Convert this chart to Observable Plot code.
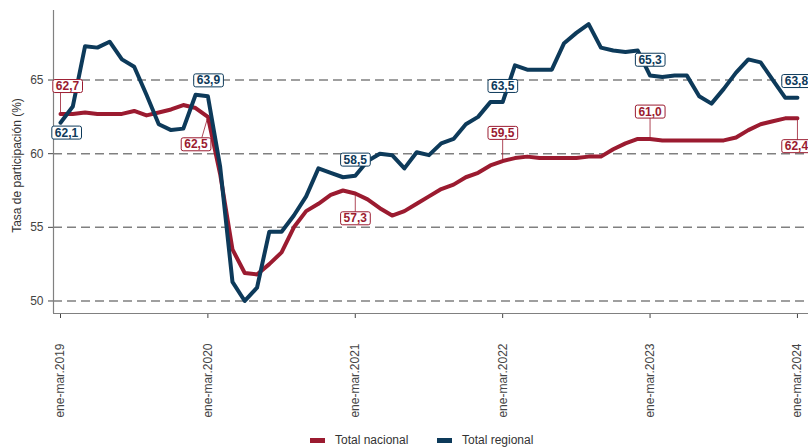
<!DOCTYPE html>
<html><head><meta charset="utf-8">
<script src="https://cdn.jsdelivr.net/npm/d3@7"></script>
<script src="https://cdn.jsdelivr.net/npm/@observablehq/plot@0.6"></script>
<style>
body{margin:0;background:#fff;font-family:"Liberation Sans",Arial,sans-serif;}
#chart{width:808px;height:433px;}
#legend{position:relative;width:808px;height:15px;font-size:12px;color:#333;}
.item{position:absolute;top:0;height:15px;line-height:15px;display:flex;align-items:center;white-space:nowrap;}
.sw{width:15px;height:5px;margin-right:10px;}
</style></head><body>
<div id="chart"></div>
<div id="legend"></div>
<script>
// ---- data ----
const tickLabels = ["ene-mar.2019","ene-mar.2020","ene-mar.2021","ene-mar.2022","ene-mar.2023","ene-mar.2024"];
const seriesNames = ["Total nacional","Total regional"];
const nacional = [62.7,62.7,62.8,62.7,62.7,62.7,62.9,62.6,62.8,63.0,63.3,63.1,
  62.5,58.6,53.5,51.9,51.8,52.5,53.3,55.0,56.1,56.6,57.2,57.5,
  57.3,56.9,56.3,55.8,56.1,56.6,57.1,57.6,57.9,58.4,58.7,59.2,
  59.5,59.7,59.8,59.7,59.7,59.7,59.7,59.8,59.8,60.3,60.7,61.0,
  61.0,60.9,60.9,60.9,60.9,60.9,60.9,61.1,61.6,62.0,62.2,62.4,
  62.4];
const regional = [62.1,63.2,67.3,67.2,67.6,66.4,65.9,64.0,62.0,61.6,61.7,64.0,
  63.9,59.1,51.3,50.0,50.9,54.7,54.7,55.8,57.1,59.0,58.7,58.4,
  58.5,59.5,60.0,59.9,59.0,60.1,59.9,60.7,61.0,62.0,62.5,63.5,
  63.5,66.0,65.7,65.7,65.7,67.5,68.2,68.8,67.2,67.0,66.9,67.0,
  65.3,65.2,65.3,65.3,63.9,63.4,64.4,65.5,66.4,66.2,65.0,63.8,
  63.8];
const labelIdx = [0,12,24,36,48,60];
const yTicks = [50,55,60,65];

// ---- layout ----
const RED = "#9b1b30", BLUE = "#0d3a5a";
const W = 808, H = 433, mL = 53, mR = 0, mT = 10, mB = 120;
const xDom = [-0.57, 60.9], yDom = [49.15, 69.72];
const kx = (W - mL - mR) / (xDom[1] - xDom[0]);
const ky = (H - mT - mB) / (yDom[1] - yDom[0]);
// pixel offsets of label boxes (dx, dy) and stem end x-offset
const natOff = [[7,-27.7,0],[-12,27.6,-8],[0,25,0],[0,-28,0],[0,-27.2,0],[-1,28,0]];
const regOff = [[6,10],[0.5,-15.7],[0,-16],[0,-16],[0,-15.7],[-1,-16.5]];
const fmt = v => v.toFixed(1).replace(".", ",");

const months = nacional.map((_, i) => i);
const natRows = labelIdx.map((i, k) => ({i, v: nacional[i], t: fmt(nacional[i]),
  lx: i + natOff[k][0] / kx, ly: nacional[i] - natOff[k][1] / ky, sx: i + natOff[k][2] / kx}));
const regRows = labelIdx.map((i, k) => ({i, v: regional[i], t: fmt(regional[i]),
  lx: i + regOff[k][0] / kx, ly: regional[i] - regOff[k][1] / ky}));

const chart = Plot.plot({
  width: W, height: H, marginLeft: mL, marginRight: mR, marginTop: mT, marginBottom: mB,
  style: {fontFamily: '"Liberation Sans",Arial,sans-serif', fontSize: "12px", color: "#444", background: "#fff"},
  x: {domain: xDom, ticks: tickLabels.map((_, k) => k * 12), tickFormat: d => tickLabels[Math.round(d / 12)],
      tickRotate: -90, tickSize: 5, tickPadding: 25, label: null},
  y: {domain: yDom, ticks: yTicks, tickSize: 5, tickPadding: 5, label: null},
  marks: [
    Plot.ruleY(yTicks, {stroke: "#808080", strokeWidth: 1.5, strokeDasharray: "9,5"}),
    Plot.ruleX([xDom[0]], {stroke: "#808080", strokeWidth: 1.2}),
    Plot.ruleY([yDom[0]], {stroke: "#808080", strokeWidth: 1.2}),
    Plot.line(months, {x: d => d, y: d => nacional[d], stroke: RED, strokeWidth: 4, strokeLinejoin: "round"}),
    Plot.line(months, {x: d => d, y: d => regional[d], stroke: BLUE, strokeWidth: 4, strokeLinejoin: "round"}),
    Plot.link(natRows, {x1: "i", y1: "v", x2: "sx", y2: "ly", stroke: RED, strokeWidth: 1, strokeOpacity: 0.8}),
    Plot.text(natRows, {x: "lx", y: "ly", text: "t", fill: RED, fontWeight: "bold", fontSize: 12, ariaLabel: () => "lbl-nat"}),
    Plot.text(regRows, {x: "lx", y: "ly", text: "t", fill: BLUE, fontWeight: "bold", fontSize: 12, ariaLabel: () => "lbl-reg"}),
    Plot.text(["Tasa de participación (%)"], {frameAnchor: "left", textAnchor: "middle", rotate: -90, dx: -36, dy: 3.5, fill: "#333", fontSize: 12})
  ]
});
document.getElementById("chart").append(chart);

for (const [name, color] of [["lbl-nat", RED], ["lbl-reg", BLUE]]) {
  chart.querySelectorAll(`text[aria-label="${name}"]`).forEach(t => {
    const bb = t.getBBox();
    const r = document.createElementNS("http://www.w3.org/2000/svg", "rect");
    r.setAttribute("x", bb.x - 3);
    r.setAttribute("y", bb.y + 0.5);
    r.setAttribute("width", bb.width + 6);
    r.setAttribute("height", bb.height - 1);
    r.setAttribute("rx", 2);
    r.setAttribute("fill", "#fff");
    r.setAttribute("stroke", color);
    r.setAttribute("stroke-width", 1);
    const tr = t.getAttribute("transform");
    if (tr) r.setAttribute("transform", tr);
    t.parentNode.insertBefore(r, t);
  });
}

const legend = document.getElementById("legend");
[[seriesNames[0], RED, 310], [seriesNames[1], BLUE, 437]].forEach(([n, c, left]) => {
  const it = document.createElement("div");
  it.className = "item";
  it.style.left = left + "px";
  it.innerHTML = `<span class="sw" style="background:${c}"></span><span>${n}</span>`;
  legend.append(it);
});
</script>
</body></html>
